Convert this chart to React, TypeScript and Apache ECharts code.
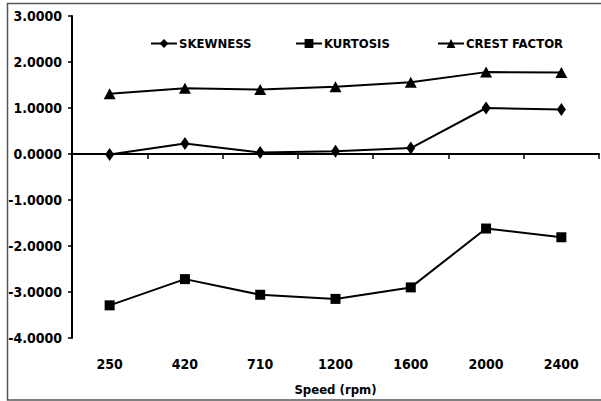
import React, { useEffect, useRef } from "react";
import * as echarts from "echarts";

const speeds = ["250", "420", "710", "1200", "1600", "2000", "2400"];
const skewness = [-0.01, 0.23, 0.03, 0.06, 0.13, 1.0, 0.97];
const kurtosis = [-3.29, -2.72, -3.06, -3.15, -2.9, -1.62, -1.81];
const crestFactor = [1.31, 1.43, 1.4, 1.46, 1.56, 1.78, 1.77];
const seriesNames = ["SKEWNESS", "KURTOSIS", "CREST FACTOR"];

const FONT = "'DejaVu Sans Condensed', 'Liberation Sans Narrow', 'Liberation Sans', sans-serif";

export default function App() {
  const ref = useRef<HTMLDivElement>(null);
  useEffect(() => {
    if (!ref.current) return;
    const chart = echarts.init(ref.current, undefined, { renderer: "svg" });
    const lineStyle = { color: "#000", width: 2 };
    const legendLefts = [145, 290, 432];
    chart.setOption({
      animation: false,
      backgroundColor: "#fff",
      textStyle: { fontFamily: FONT },
      graphic: [
        {
          type: "rect",
          shape: { x: 7.5, y: 3.5, width: 600, height: 396.5 },
          style: { fill: "none", stroke: "#555", lineWidth: 1.5 },
          silent: true,
        },
      ],
      legend: seriesNames.map((n, i) => ({
        top: 32,
        left: legendLefts[i],
        itemWidth: 26,
        itemHeight: 11,
        itemGap: 0,
        textStyle: { fontFamily: FONT, fontWeight: "bold", fontSize: 13, color: "#000", padding: [0, 0, 0, -3] },
        data: [n],
      })),
      grid: { left: 72, top: 16, right: 2, bottom: 57, containLabel: false },
      xAxis: {
        type: "category",
        data: speeds,
        boundaryGap: true,
        name: "Speed (rpm)",
        nameLocation: "middle",
        nameGap: 45,
        nameTextStyle: { fontFamily: FONT, fontWeight: "bold", fontSize: 13, color: "#000" },
        axisLine: { lineStyle: { color: "#000", width: 2 } },
        axisTick: { show: true, length: 5, lineStyle: { color: "#000", width: 1.5 } },
        axisLabel: { fontFamily: FONT, fontWeight: "bold", fontSize: 14, color: "#000", margin: 19 },
        splitLine: { show: false },
      },
      yAxis: {
        type: "value",
        min: -4,
        max: 3,
        interval: 1,
        axisLine: { show: true, lineStyle: { color: "#000", width: 2 } },
        axisTick: { show: true, length: 4, lineStyle: { color: "#000", width: 1.5 } },
        axisLabel: {
          fontFamily: FONT,
          fontWeight: "bold",
          fontSize: 14,
          color: "#000",
          margin: 10,
          formatter: (v: number) => v.toFixed(4),
        },
        splitLine: { show: false },
      },
      series: [
        {
          name: "SKEWNESS",
          type: "line",
          data: skewness,
          symbol: "diamond",
          symbolSize: [9, 13],
          itemStyle: { color: "#000" },
          lineStyle,
        },
        {
          name: "KURTOSIS",
          type: "line",
          data: kurtosis,
          symbol: "rect",
          symbolSize: 10,
          itemStyle: { color: "#000" },
          lineStyle,
        },
        {
          name: "CREST FACTOR",
          type: "line",
          data: crestFactor,
          symbol: "triangle",
          symbolSize: [12, 11],
          itemStyle: { color: "#000" },
          lineStyle,
        },
      ],
    });
    return () => chart.dispose();
  }, []);
  return (
    <div
      ref={ref}
      style={{ position: "fixed", left: 0, top: 0, width: 601, height: 401 }}
    />
  );
}
